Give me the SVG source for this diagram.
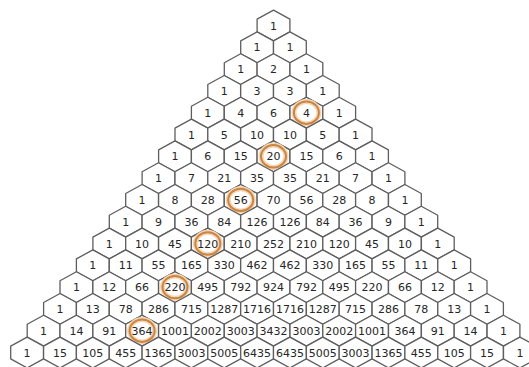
<svg xmlns="http://www.w3.org/2000/svg" xmlns:xlink="http://www.w3.org/1999/xlink" width="529" height="367" viewBox="0 0 529 367">
<defs>
<style>
.hx{fill:#fff;stroke:#5e5e5e;stroke-width:1.3;stroke-linejoin:round}
text{font-family:"DejaVu Sans","Verdana",sans-serif;font-size:11px;fill:#262626;text-anchor:middle}
.glow{fill:none;stroke:#f2d6b6;stroke-width:5}
.ring{fill:none;stroke:#cc8440;stroke-width:2}
</style>
<polygon id="hex" class="hx" points="0,-15.4 16.4,-6.4 16.4,6.4 0,15.4 -16.4,6.4 -16.4,-6.4"/>
<g id="mark"><ellipse class="glow" rx="12.5" ry="11.2"/><ellipse class="ring" rx="12.5" ry="11.2"/></g>
</defs>
<rect width="529" height="367" fill="#fff"/>
<g id="nodes">
<g id="r0c0" transform="translate(273.5,25.5)"><use href="#hex"/><text y="4">1</text></g>
<g id="r1c0" transform="translate(257.1,47.3)"><use href="#hex"/><text y="4">1</text></g>
<g id="r1c1" transform="translate(289.9,47.3)"><use href="#hex"/><text y="4">1</text></g>
<g id="r2c0" transform="translate(240.7,69.1)"><use href="#hex"/><text y="4">1</text></g>
<g id="r2c1" transform="translate(273.5,69.1)"><use href="#hex"/><text y="4">2</text></g>
<g id="r2c2" transform="translate(306.4,69.1)"><use href="#hex"/><text y="4">1</text></g>
<g id="r3c0" transform="translate(224.2,90.9)"><use href="#hex"/><text y="4">1</text></g>
<g id="r3c1" transform="translate(257.1,90.9)"><use href="#hex"/><text y="4">3</text></g>
<g id="r3c2" transform="translate(289.9,90.9)"><use href="#hex"/><text y="4">3</text></g>
<g id="r3c3" transform="translate(322.8,90.9)"><use href="#hex"/><text y="4">1</text></g>
<g id="r4c0" transform="translate(207.8,112.7)"><use href="#hex"/><text y="4">1</text></g>
<g id="r4c1" transform="translate(240.7,112.7)"><use href="#hex"/><text y="4">4</text></g>
<g id="r4c2" transform="translate(273.5,112.7)"><use href="#hex"/><text y="4">6</text></g>
<g id="r4c3" transform="translate(306.4,112.7)"><use href="#hex"/><use href="#mark"/><text y="4">4</text></g>
<g id="r4c4" transform="translate(339.2,112.7)"><use href="#hex"/><text y="4">1</text></g>
<g id="r5c0" transform="translate(191.4,134.5)"><use href="#hex"/><text y="4">1</text></g>
<g id="r5c1" transform="translate(224.2,134.5)"><use href="#hex"/><text y="4">5</text></g>
<g id="r5c2" transform="translate(257.1,134.5)"><use href="#hex"/><text y="4">10</text></g>
<g id="r5c3" transform="translate(289.9,134.5)"><use href="#hex"/><text y="4">10</text></g>
<g id="r5c4" transform="translate(322.8,134.5)"><use href="#hex"/><text y="4">5</text></g>
<g id="r5c5" transform="translate(355.6,134.5)"><use href="#hex"/><text y="4">1</text></g>
<g id="r6c0" transform="translate(175,156.3)"><use href="#hex"/><text y="4">1</text></g>
<g id="r6c1" transform="translate(207.8,156.3)"><use href="#hex"/><text y="4">6</text></g>
<g id="r6c2" transform="translate(240.7,156.3)"><use href="#hex"/><text y="4">15</text></g>
<g id="r6c3" transform="translate(273.5,156.3)"><use href="#hex"/><use href="#mark"/><text y="4">20</text></g>
<g id="r6c4" transform="translate(306.4,156.3)"><use href="#hex"/><text y="4">15</text></g>
<g id="r6c5" transform="translate(339.2,156.3)"><use href="#hex"/><text y="4">6</text></g>
<g id="r6c6" transform="translate(372,156.3)"><use href="#hex"/><text y="4">1</text></g>
<g id="r7c0" transform="translate(158.5,178.1)"><use href="#hex"/><text y="4">1</text></g>
<g id="r7c1" transform="translate(191.4,178.1)"><use href="#hex"/><text y="4">7</text></g>
<g id="r7c2" transform="translate(224.2,178.1)"><use href="#hex"/><text y="4">21</text></g>
<g id="r7c3" transform="translate(257.1,178.1)"><use href="#hex"/><text y="4">35</text></g>
<g id="r7c4" transform="translate(289.9,178.1)"><use href="#hex"/><text y="4">35</text></g>
<g id="r7c5" transform="translate(322.8,178.1)"><use href="#hex"/><text y="4">21</text></g>
<g id="r7c6" transform="translate(355.6,178.1)"><use href="#hex"/><text y="4">7</text></g>
<g id="r7c7" transform="translate(388.5,178.1)"><use href="#hex"/><text y="4">1</text></g>
<g id="r8c0" transform="translate(142.1,199.9)"><use href="#hex"/><text y="4">1</text></g>
<g id="r8c1" transform="translate(175,199.9)"><use href="#hex"/><text y="4">8</text></g>
<g id="r8c2" transform="translate(207.8,199.9)"><use href="#hex"/><text y="4">28</text></g>
<g id="r8c3" transform="translate(240.7,199.9)"><use href="#hex"/><use href="#mark"/><text y="4">56</text></g>
<g id="r8c4" transform="translate(273.5,199.9)"><use href="#hex"/><text y="4">70</text></g>
<g id="r8c5" transform="translate(306.4,199.9)"><use href="#hex"/><text y="4">56</text></g>
<g id="r8c6" transform="translate(339.2,199.9)"><use href="#hex"/><text y="4">28</text></g>
<g id="r8c7" transform="translate(372,199.9)"><use href="#hex"/><text y="4">8</text></g>
<g id="r8c8" transform="translate(404.9,199.9)"><use href="#hex"/><text y="4">1</text></g>
<g id="r9c0" transform="translate(125.7,221.7)"><use href="#hex"/><text y="4">1</text></g>
<g id="r9c1" transform="translate(158.5,221.7)"><use href="#hex"/><text y="4">9</text></g>
<g id="r9c2" transform="translate(191.4,221.7)"><use href="#hex"/><text y="4">36</text></g>
<g id="r9c3" transform="translate(224.2,221.7)"><use href="#hex"/><text y="4">84</text></g>
<g id="r9c4" transform="translate(257.1,221.7)"><use href="#hex"/><text y="4">126</text></g>
<g id="r9c5" transform="translate(289.9,221.7)"><use href="#hex"/><text y="4">126</text></g>
<g id="r9c6" transform="translate(322.8,221.7)"><use href="#hex"/><text y="4">84</text></g>
<g id="r9c7" transform="translate(355.6,221.7)"><use href="#hex"/><text y="4">36</text></g>
<g id="r9c8" transform="translate(388.5,221.7)"><use href="#hex"/><text y="4">9</text></g>
<g id="r9c9" transform="translate(421.3,221.7)"><use href="#hex"/><text y="4">1</text></g>
<g id="r10c0" transform="translate(109.3,243.5)"><use href="#hex"/><text y="4">1</text></g>
<g id="r10c1" transform="translate(142.1,243.5)"><use href="#hex"/><text y="4">10</text></g>
<g id="r10c2" transform="translate(175,243.5)"><use href="#hex"/><text y="4">45</text></g>
<g id="r10c3" transform="translate(207.8,243.5)"><use href="#hex"/><use href="#mark"/><text y="4">120</text></g>
<g id="r10c4" transform="translate(240.7,243.5)"><use href="#hex"/><text y="4">210</text></g>
<g id="r10c5" transform="translate(273.5,243.5)"><use href="#hex"/><text y="4">252</text></g>
<g id="r10c6" transform="translate(306.4,243.5)"><use href="#hex"/><text y="4">210</text></g>
<g id="r10c7" transform="translate(339.2,243.5)"><use href="#hex"/><text y="4">120</text></g>
<g id="r10c8" transform="translate(372,243.5)"><use href="#hex"/><text y="4">45</text></g>
<g id="r10c9" transform="translate(404.9,243.5)"><use href="#hex"/><text y="4">10</text></g>
<g id="r10c10" transform="translate(437.8,243.5)"><use href="#hex"/><text y="4">1</text></g>
<g id="r11c0" transform="translate(92.8,265.3)"><use href="#hex"/><text y="4">1</text></g>
<g id="r11c1" transform="translate(125.7,265.3)"><use href="#hex"/><text y="4">11</text></g>
<g id="r11c2" transform="translate(158.5,265.3)"><use href="#hex"/><text y="4">55</text></g>
<g id="r11c3" transform="translate(191.4,265.3)"><use href="#hex"/><text y="4">165</text></g>
<g id="r11c4" transform="translate(224.2,265.3)"><use href="#hex"/><text y="4">330</text></g>
<g id="r11c5" transform="translate(257.1,265.3)"><use href="#hex"/><text y="4">462</text></g>
<g id="r11c6" transform="translate(289.9,265.3)"><use href="#hex"/><text y="4">462</text></g>
<g id="r11c7" transform="translate(322.8,265.3)"><use href="#hex"/><text y="4">330</text></g>
<g id="r11c8" transform="translate(355.6,265.3)"><use href="#hex"/><text y="4">165</text></g>
<g id="r11c9" transform="translate(388.5,265.3)"><use href="#hex"/><text y="4">55</text></g>
<g id="r11c10" transform="translate(421.3,265.3)"><use href="#hex"/><text y="4">11</text></g>
<g id="r11c11" transform="translate(454.2,265.3)"><use href="#hex"/><text y="4">1</text></g>
<g id="r12c0" transform="translate(76.4,287.1)"><use href="#hex"/><text y="4">1</text></g>
<g id="r12c1" transform="translate(109.3,287.1)"><use href="#hex"/><text y="4">12</text></g>
<g id="r12c2" transform="translate(142.1,287.1)"><use href="#hex"/><text y="4">66</text></g>
<g id="r12c3" transform="translate(175,287.1)"><use href="#hex"/><use href="#mark"/><text y="4">220</text></g>
<g id="r12c4" transform="translate(207.8,287.1)"><use href="#hex"/><text y="4">495</text></g>
<g id="r12c5" transform="translate(240.7,287.1)"><use href="#hex"/><text y="4">792</text></g>
<g id="r12c6" transform="translate(273.5,287.1)"><use href="#hex"/><text y="4">924</text></g>
<g id="r12c7" transform="translate(306.4,287.1)"><use href="#hex"/><text y="4">792</text></g>
<g id="r12c8" transform="translate(339.2,287.1)"><use href="#hex"/><text y="4">495</text></g>
<g id="r12c9" transform="translate(372,287.1)"><use href="#hex"/><text y="4">220</text></g>
<g id="r12c10" transform="translate(404.9,287.1)"><use href="#hex"/><text y="4">66</text></g>
<g id="r12c11" transform="translate(437.8,287.1)"><use href="#hex"/><text y="4">12</text></g>
<g id="r12c12" transform="translate(470.6,287.1)"><use href="#hex"/><text y="4">1</text></g>
<g id="r13c0" transform="translate(60,308.9)"><use href="#hex"/><text y="4">1</text></g>
<g id="r13c1" transform="translate(92.8,308.9)"><use href="#hex"/><text y="4">13</text></g>
<g id="r13c2" transform="translate(125.7,308.9)"><use href="#hex"/><text y="4">78</text></g>
<g id="r13c3" transform="translate(158.5,308.9)"><use href="#hex"/><text y="4">286</text></g>
<g id="r13c4" transform="translate(191.4,308.9)"><use href="#hex"/><text y="4">715</text></g>
<g id="r13c5" transform="translate(224.2,308.9)"><use href="#hex"/><text y="4">1287</text></g>
<g id="r13c6" transform="translate(257.1,308.9)"><use href="#hex"/><text y="4">1716</text></g>
<g id="r13c7" transform="translate(289.9,308.9)"><use href="#hex"/><text y="4">1716</text></g>
<g id="r13c8" transform="translate(322.8,308.9)"><use href="#hex"/><text y="4">1287</text></g>
<g id="r13c9" transform="translate(355.6,308.9)"><use href="#hex"/><text y="4">715</text></g>
<g id="r13c10" transform="translate(388.5,308.9)"><use href="#hex"/><text y="4">286</text></g>
<g id="r13c11" transform="translate(421.3,308.9)"><use href="#hex"/><text y="4">78</text></g>
<g id="r13c12" transform="translate(454.2,308.9)"><use href="#hex"/><text y="4">13</text></g>
<g id="r13c13" transform="translate(487,308.9)"><use href="#hex"/><text y="4">1</text></g>
<g id="r14c0" transform="translate(43.6,330.7)"><use href="#hex"/><text y="4">1</text></g>
<g id="r14c1" transform="translate(76.4,330.7)"><use href="#hex"/><text y="4">14</text></g>
<g id="r14c2" transform="translate(109.3,330.7)"><use href="#hex"/><text y="4">91</text></g>
<g id="r14c3" transform="translate(142.1,330.7)"><use href="#hex"/><use href="#mark"/><text y="4">364</text></g>
<g id="r14c4" transform="translate(175,330.7)"><use href="#hex"/><text y="4">1001</text></g>
<g id="r14c5" transform="translate(207.8,330.7)"><use href="#hex"/><text y="4">2002</text></g>
<g id="r14c6" transform="translate(240.7,330.7)"><use href="#hex"/><text y="4">3003</text></g>
<g id="r14c7" transform="translate(273.5,330.7)"><use href="#hex"/><text y="4">3432</text></g>
<g id="r14c8" transform="translate(306.4,330.7)"><use href="#hex"/><text y="4">3003</text></g>
<g id="r14c9" transform="translate(339.2,330.7)"><use href="#hex"/><text y="4">2002</text></g>
<g id="r14c10" transform="translate(372,330.7)"><use href="#hex"/><text y="4">1001</text></g>
<g id="r14c11" transform="translate(404.9,330.7)"><use href="#hex"/><text y="4">364</text></g>
<g id="r14c12" transform="translate(437.8,330.7)"><use href="#hex"/><text y="4">91</text></g>
<g id="r14c13" transform="translate(470.6,330.7)"><use href="#hex"/><text y="4">14</text></g>
<g id="r14c14" transform="translate(503.5,330.7)"><use href="#hex"/><text y="4">1</text></g>
<g id="r15c0" transform="translate(27.1,352.5)"><use href="#hex"/><text y="4">1</text></g>
<g id="r15c1" transform="translate(60,352.5)"><use href="#hex"/><text y="4">15</text></g>
<g id="r15c2" transform="translate(92.8,352.5)"><use href="#hex"/><text y="4">105</text></g>
<g id="r15c3" transform="translate(125.7,352.5)"><use href="#hex"/><text y="4">455</text></g>
<g id="r15c4" transform="translate(158.5,352.5)"><use href="#hex"/><text y="4">1365</text></g>
<g id="r15c5" transform="translate(191.4,352.5)"><use href="#hex"/><text y="4">3003</text></g>
<g id="r15c6" transform="translate(224.2,352.5)"><use href="#hex"/><text y="4">5005</text></g>
<g id="r15c7" transform="translate(257.1,352.5)"><use href="#hex"/><text y="4">6435</text></g>
<g id="r15c8" transform="translate(289.9,352.5)"><use href="#hex"/><text y="4">6435</text></g>
<g id="r15c9" transform="translate(322.8,352.5)"><use href="#hex"/><text y="4">5005</text></g>
<g id="r15c10" transform="translate(355.6,352.5)"><use href="#hex"/><text y="4">3003</text></g>
<g id="r15c11" transform="translate(388.5,352.5)"><use href="#hex"/><text y="4">1365</text></g>
<g id="r15c12" transform="translate(421.3,352.5)"><use href="#hex"/><text y="4">455</text></g>
<g id="r15c13" transform="translate(454.2,352.5)"><use href="#hex"/><text y="4">105</text></g>
<g id="r15c14" transform="translate(487,352.5)"><use href="#hex"/><text y="4">15</text></g>
<g id="r15c15" transform="translate(519.9,352.5)"><use href="#hex"/><text y="4">1</text></g>
</g>
<g id="connectors"/>
</svg>
